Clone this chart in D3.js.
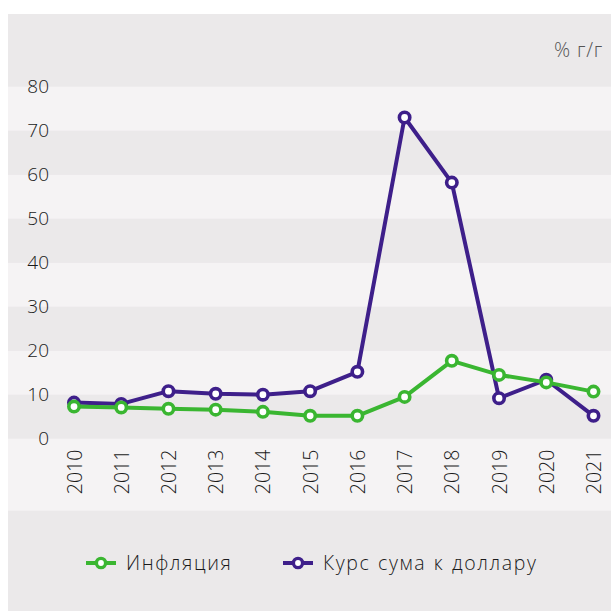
<!DOCTYPE html>
<html><head><meta charset="utf-8">
<script src="https://cdn.jsdelivr.net/npm/d3@7"></script>
<style>
html,body{margin:0;padding:0;background:#fff;}
svg text{font-family:"Open Sans",sans-serif;}
</style></head>
<body>
<svg id="c" width="611" height="611"></svg>
<script>
const years = ["2010","2011","2012","2013","2014","2015","2016","2017","2018","2019","2020","2021"];
const inflation = [7.3, 7.1, 6.8, 6.6, 6.1, 5.2, 5.2, 9.5, 17.7, 14.5, 12.8, 10.7];
const exchange = [8.2, 7.9, 10.8, 10.2, 10.0, 10.8, 15.2, 73.0, 58.2, 9.2, 13.4, 5.2];
const yTicks = [0, 10, 20, 30, 40, 50, 60, 70, 80];
const seriesNames = ["Инфляция", "Курс сума к доллару"];
const unitLabel = "% г/г";
const colors = ["#3ab631", "#3e1f8a"];

const FONT = "'Open Sans', sans-serif";
const svg = d3.select("#c");
const panel = {x0: 8, y0: 14, x1: 611, y1: 611};
const dark = "#ebe9ea", light = "#f5f3f4";

const x = d3.scalePoint().domain(years).range([74, 593.5]);
const y = d3.scaleLinear().domain([0, 80]).range([438.7, 86.7]);

svg.append("rect").attr("x", panel.x0).attr("y", panel.y0)
  .attr("width", panel.x1 - panel.x0).attr("height", panel.y1 - panel.y0).attr("fill", dark);
const bandData = yTicks.slice(0, -1).map((v, i) => ({lo: v, hi: yTicks[i + 1], i}));
svg.selectAll("rect.band").data(bandData).join("rect").attr("class", "band")
  .attr("x", panel.x0).attr("width", panel.x1 - panel.x0)
  .attr("y", d => y(d.hi)).attr("height", d => y(d.lo) - y(d.hi))
  .attr("fill", d => (d.i % 2 === 0) ? dark : light);
svg.append("rect").attr("x", panel.x0).attr("width", panel.x1 - panel.x0)
  .attr("y", y(0)).attr("height", 510.7 - y(0)).attr("fill", light);

const yAxis = d3.axisLeft(y).tickValues(yTicks).tickSize(0).tickPadding(0);
const gy = svg.append("g").attr("transform", "translate(49,0)").call(yAxis);
gy.select(".domain").remove();
gy.selectAll("text").attr("font-size", 19).attr("font-weight", 300).attr("fill", "#1a1a1a")
  .attr("font-family", FONT);

const xAxis = d3.axisBottom(x).tickSize(0).tickPadding(0);
const gx = svg.append("g").attr("transform", `translate(0,${y(0)})`).call(xAxis);
gx.select(".domain").remove();
gx.selectAll("text").attr("font-size", 19.5).attr("font-weight", 300).attr("fill", "#1a1a1a")
  .attr("font-family", FONT)
  .attr("text-anchor", "end").attr("dy", null)
  .attr("transform", "translate(7,11) rotate(-90)");

svg.append("text").attr("x", 603).attr("y", 57).attr("text-anchor", "end")
  .attr("font-family", FONT).attr("letter-spacing", 0.8)
  .attr("font-size", 20).attr("font-weight", 300).attr("fill", "#555").text(unitLabel);

const line = d3.line().x((d, i) => x(years[i])).y(d => y(d));
const series = [inflation, exchange];
[1, 0].forEach(k => {
  const g = svg.append("g");
  g.append("path").attr("d", line(series[k])).attr("fill", "none")
    .attr("stroke", colors[k]).attr("stroke-width", 4).attr("stroke-linejoin", "round");
  g.selectAll("circle").data(series[k]).join("circle")
    .attr("cx", (d, i) => x(years[i])).attr("cy", d => y(d)).attr("r", 5.2)
    .attr("fill", "#fff").attr("stroke", colors[k]).attr("stroke-width", 3.6);
});

const legX = [86, 283];
seriesNames.forEach((n, k) => {
  const g = svg.append("g").attr("transform", `translate(${legX[k]},563)`);
  g.append("line").attr("x1", 0).attr("x2", 30).attr("stroke", colors[k]).attr("stroke-width", 4);
  g.append("circle").attr("cx", 15).attr("r", 4.6).attr("fill", "#fff").attr("stroke", colors[k]).attr("stroke-width", 3.4);
  g.append("text").attr("x", 40).attr("y", 6.5).attr("font-size", 19.5).attr("font-weight", 300)
    .attr("font-family", FONT).attr("letter-spacing", 1.6).attr("word-spacing", 1)
    .attr("fill", "#1a1a1a").text(n);
});
</script>
</body></html>
